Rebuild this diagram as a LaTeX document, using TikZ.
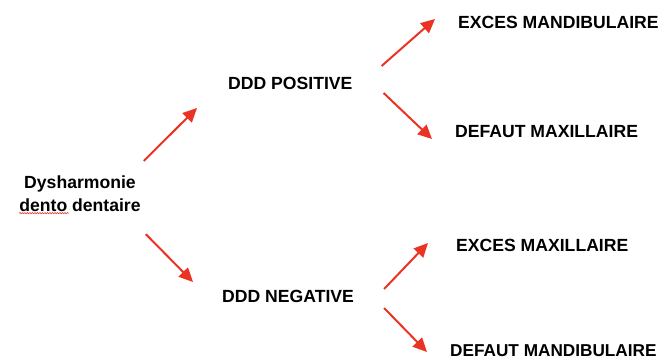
\documentclass[tikz,border=0pt]{standalone}
\usepackage{fontspec}
\setmainfont{Liberation Sans}
\definecolor{arrowred}{RGB}{234, 51, 35}
\usetikzlibrary{arrows.meta,calc,decorations.pathmorphing}

\begin{document}
\begin{tikzpicture}[x=1pt, y=-1pt, every node/.style={font=\bfseries\fontsize{17.6}{23}\selectfont, inner sep=0pt},
    branch/.style={anchor=west},
    arr/.style={-{Triangle[length=14pt, width=13pt]}, line width=2pt, color=arrowred},
    spell/.style={arrowred, line width=0.6pt, decorate, decoration={snake, amplitude=0.6pt, segment length=2.5pt}}]
    \useasboundingbox (0,0) rectangle (668,362);

    \node[align=center] (dys) at (80,194) {Dysharmonie\\dento dentaire};
    \node[branch] (pos) at (228,83) {DDD POSITIVE};
    \node[branch] (neg) at (222,296) {DDD NEGATIVE};
    \node[branch] (em) at (458,22) {EXCES MANDIBULAIRE};
    \node[branch] (dmx) at (455,132) {DEFAUT MAXILLAIRE};
    \node[branch] (exm) at (456,245) {EXCES MAXILLAIRE};
    \node[branch, font=\bfseries\fontsize{17.2}{23}\selectfont] (dmd) at (450,351) {DEFAUT MANDIBULAIRE};

    % spell check mark
    \draw[spell] ($(dys.south west)+(0,1)$) -- ++(50,0);

    % first level
    \draw[arr] ($(dys.north east)+(3,-15)$) -- ($(pos.west)+(-31,25)$);
    \draw[arr] ($(dys.south east)+(5,22)$) -- ($(neg.west)+(-29,-14)$);

    % second level
    \draw[arr] ($(pos.east)+(29,-17)$) -- ($(em.west)+(-23,-3)$);
    \draw[arr] ($(pos.east)+(31,10)$) -- ($(dmx.west)+(-23,7)$);
    \draw[arr] ($(neg.east)+(30,-7)$) -- ($(exm.west)+(-28,-2)$);
    \draw[arr] ($(neg.east)+(30,12)$) -- ($(dmd.west)+(-23,1)$);
\end{tikzpicture}
\end{document}
